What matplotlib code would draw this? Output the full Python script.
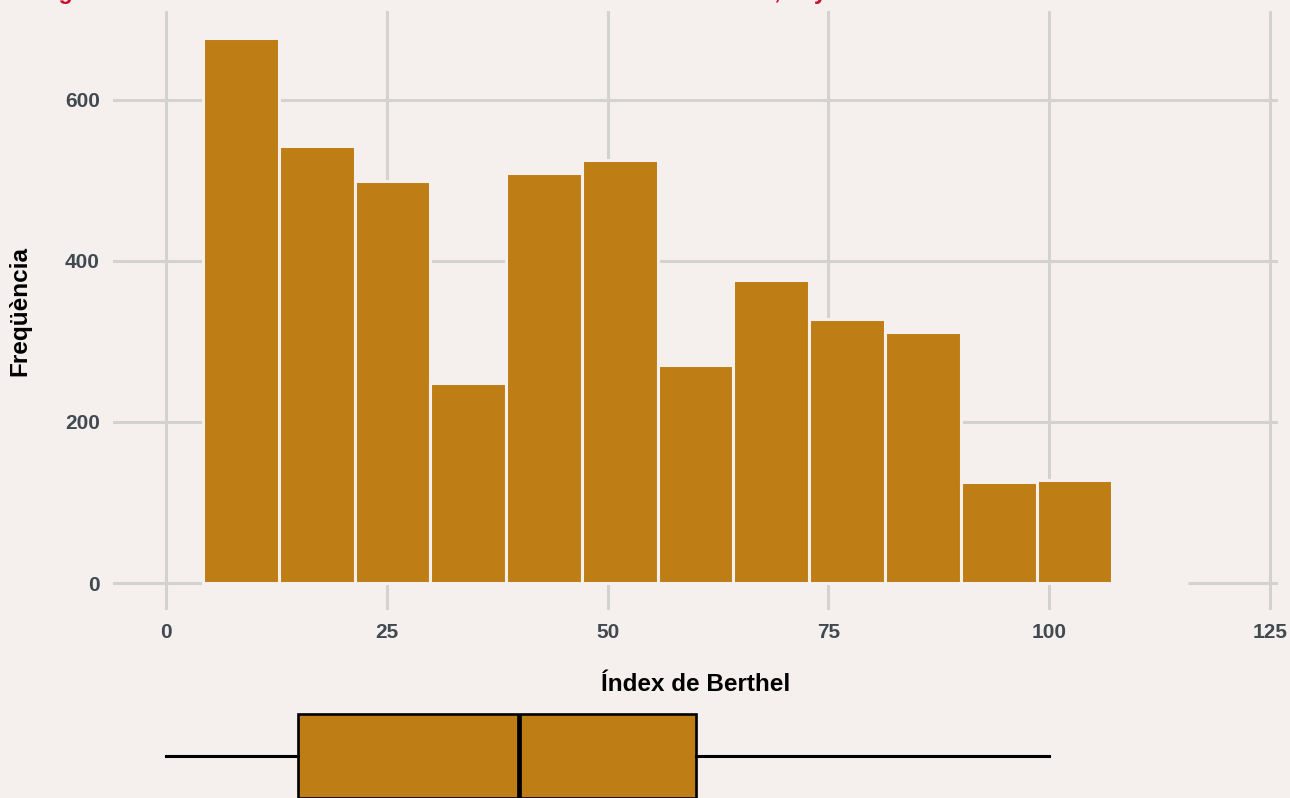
import matplotlib.pyplot as plt
import numpy as np

# dades llegides del gràfic
vores = [4.19, 12.77, 21.35, 29.93, 38.51, 47.09, 55.67, 64.25, 72.83, 81.41, 89.99, 98.57, 107.15, 115.73]
freq = [676, 543, 499, 248, 509, 525, 270, 376, 328, 311, 125, 128, 0]
xticks = [0, 25, 50, 75, 100, 125]
yticks = [0, 200, 400, 600]

# resum del boxplot: mínim, Q1, mediana, Q3, màxim
caixa = {"whislo": 0, "q1": 15, "med": 40, "q3": 60, "whishi": 100}

fons = "#F5F0EE"
color_barra = "#BE7D15"
color_graella = "#D4D2CF"
color_text = "#414A50"

plt.rcParams['font.family'] = ['Liberation Sans', 'DejaVu Sans']

fig = plt.figure(figsize=(12.9, 7.98), dpi=100)
fig.patch.set_facecolor(fons)

W, H = 1290, 798
ax = fig.add_axes([113 / W, 1 - 610 / H, (1278 - 113) / W, (610 - 11) / H])
ax.set_facecolor(fons)

amples = np.diff(vores)
ax.bar(vores[:-1], freq, width=amples, align='edge', color=color_barra,
       edgecolor=fons, linewidth=2.2, zorder=3)

ax.set_xlim(-6.0, 125.9)
ax.set_ylim(-33.5, 710)
ax.set_xticks(xticks)
ax.set_yticks(yticks)
ax.grid(True, color=color_graella, linewidth=2.2, zorder=0)
ax.set_axisbelow(True)
for s in ax.spines.values():
    s.set_visible(False)
ax.tick_params(length=0, pad=9.5, labelsize=15, labelcolor=color_text)
for lab in ax.get_xticklabels() + ax.get_yticklabels():
    lab.set_fontweight('bold')

ax.set_xlabel("Índex de Berthel", fontsize=17.5, fontweight='bold', labelpad=22)
ax.set_ylabel("Freqüència", fontsize=17.5, fontweight='bold', labelpad=24)

# boxplot a sota
ax2 = fig.add_axes([113 / W, 1 - 812 / H, (1278 - 113) / W, 112 / H])
ax2.patch.set_alpha(0)
ax2.bxp([caixa], positions=[0.5], widths=0.75, orientation='horizontal',
        showfliers=False, showcaps=False, patch_artist=True,
        boxprops=dict(facecolor=color_barra, edgecolor='black', linewidth=1.9),
        whiskerprops=dict(color='black', linewidth=2.2),
        medianprops=dict(color='black', linewidth=3.4))
ax2.set_xlim(-6.0, 125.9)
ax2.set_ylim(0, 1)
ax2.axis('off')

# títol (quasi tot fora del quadre)
fig.text(38 / W, 1 + 1 / H, "Figura 1. Distribució de l'Índex de Berthel dels residents a l'entrada, any 2019",
         fontsize=16.7, fontweight='bold', color='#C8102E', va='baseline', ha='left')

fig.savefig("out.png", dpi=100, facecolor=fons)
